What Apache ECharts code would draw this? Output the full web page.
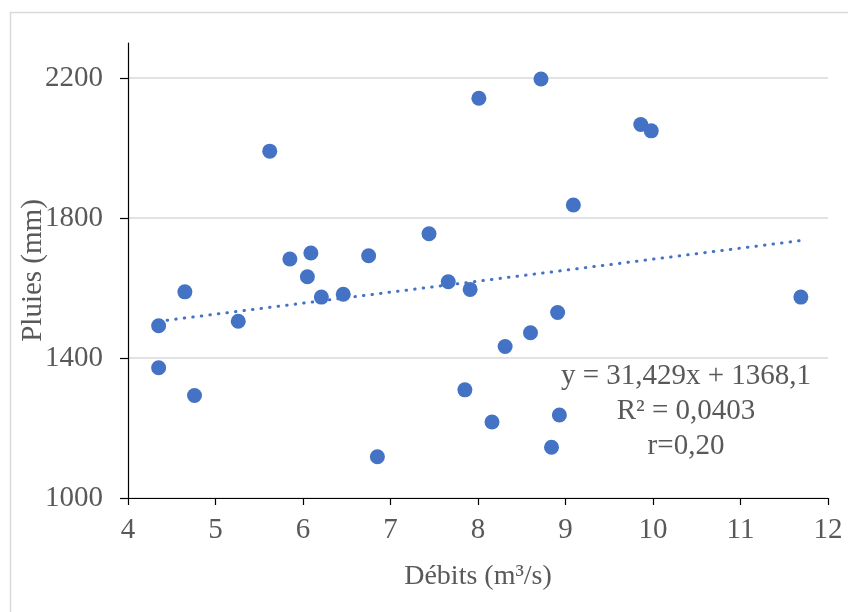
<!DOCTYPE html>
<html>
<head>
<meta charset="utf-8">
<script src="https://cdn.jsdelivr.net/npm/echarts@6/dist/echarts.min.js"></script>
<style>
html,body{margin:0;padding:0;background:#fff;}
#chart{width:848px;height:612px;}
</style>
</head>
<body>
<div id="chart"></div>
<script>
// Débits (m³/s)
const debits = [4.35, 4.35, 4.65, 4.76, 5.26, 5.62, 5.85, 6.05, 6.09, 6.21, 6.46, 6.75, 6.85,
  7.44, 7.66, 7.85, 7.91, 8.01, 8.16, 8.31, 8.60, 8.72, 8.84, 8.91, 8.93, 9.09, 9.86, 9.98, 11.69];
// Pluies (mm)
const pluies = [1492, 1372, 1589, 1293, 1505, 1991, 1683, 1632, 1700, 1574, 1582, 1692, 1118,
  1755, 1618, 1309, 1596, 2142, 1217, 1433, 1472, 2197, 1145, 1530, 1237, 1837, 2067, 2049, 1574];
// Linear trend line endpoints
const trendX = [4.35, 11.69];
const trendY = [1504.8, 1735.5];
const xTicks = [4, 5, 6, 7, 8, 9, 10, 11, 12];
const yTicks = [1000, 1400, 1800, 2200];
const eqLines = ['y = 31,429x + 1368,1', 'R² = 0,0403', 'r=0,20'];

const points = debits.map((d, i) => [d, pluies[i]]);
const trend = trendX.map((d, i) => [d, trendY[i]]);

const FONT = '"Liberation Serif", "Times New Roman", serif';
const GRAY = '#595959';
const BLUE = '#4472C4';

const chart = echarts.init(document.getElementById('chart'), null, {renderer: 'canvas'});
chart.setOption({
  animation: false,
  backgroundColor: '#ffffff',
  grid: {left: 128, right: 20, top: 43, bottom: 114, containLabel: false, outerBoundsMode: 'none'},
  xAxis: {
    type: 'value',
    min: xTicks[0], max: xTicks[xTicks.length - 1], interval: 1,
    name: 'Débits (m³/s)',
    nameLocation: 'middle',
    nameGap: 65,
    nameMoveOverlap: false,
    nameTextStyle: {fontFamily: FONT, fontSize: 28, color: GRAY},
    axisLine: {show: true, onZero: false, lineStyle: {color: '#000', width: 1.2}},
    axisTick: {show: true, inside: false, length: 7, lineStyle: {color: '#000', width: 1.2}},
    axisLabel: {fontFamily: FONT, fontSize: 29, color: GRAY, margin: 18, formatter: v => String(v)},
    splitLine: {show: false}
  },
  yAxis: {
    type: 'value',
    min: 1000, max: 2300, interval: 400,
    name: 'Pluies (mm)',
    nameLocation: 'middle',
    nameGap: 80,
    nameMoveOverlap: false,
    nameRotate: 90,
    nameTextStyle: {fontFamily: FONT, fontSize: 29, color: GRAY},
    axisLine: {show: true, onZero: false, lineStyle: {color: '#000', width: 1.2}},
    axisTick: {show: true, inside: false, length: 8, customValues: yTicks, lineStyle: {color: '#000', width: 1.2}},
    axisLabel: {fontFamily: FONT, fontSize: 29, color: GRAY, margin: 25, customValues: yTicks, formatter: v => String(v)},
    splitLine: {show: true, lineStyle: {color: '#d9d9d9', width: 1.5}}
  },
  graphic: [
    {type: 'rect', silent: true, z: -10, shape: {x: 10.5, y: 12.5, width: 860, height: 620},
      style: {fill: 'none', stroke: '#d9d9d9', lineWidth: 1.5}},
    {type: 'text', x: 686, y: 359, silent: true, z: 100,
      style: {text: eqLines.join('\n'), fontFamily: FONT, fontSize: 29, fill: GRAY,
        align: 'center', verticalAlign: 'top', lineHeight: 35}}
  ],
  series: [
    {
      type: 'scatter',
      data: points,
      symbol: 'circle',
      symbolSize: 15,
      itemStyle: {color: BLUE, opacity: 1},
      z: 2
    },
    {
      type: 'line',
      data: trend,
      showSymbol: false,
      symbol: 'none',
      silent: true,
      lineStyle: {color: BLUE, width: 3, type: [0.5, 8.1], cap: 'round'},
      z: 3
    }
  ]
});
</script>
</body>
</html>
